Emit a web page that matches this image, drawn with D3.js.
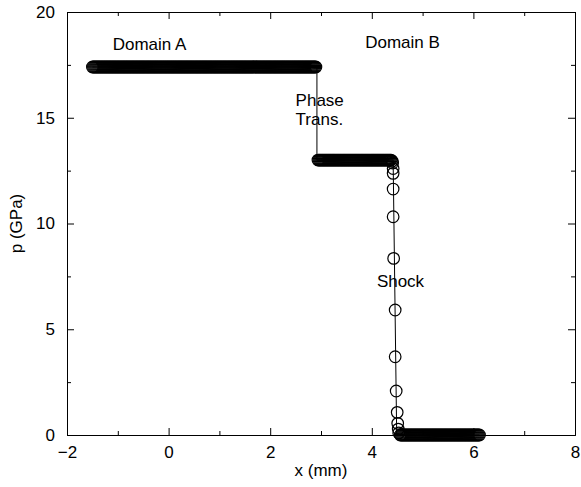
<html>
<head>
<meta charset="utf-8">
<style>
  body { margin: 0; background: #fff; }
  text { font-family: "Liberation Sans", Arial, sans-serif; }
</style>
<script src="https://d3js.org/d3.v7.min.js"></script>
</head>
<body>
<div id="chartContainer"></div>
<script type="text/javascript">
  // simulated cells, domain A (high pressure plateau)
  var bandAx = [
    -1.50,-1.48,-1.46,-1.44,-1.42,-1.40,-1.38,-1.36,-1.34,-1.32,-1.30,-1.28,-1.26,-1.24,-1.22,-1.20,-1.18,-1.16,-1.14,-1.12,-1.10,-1.08,-1.06,-1.04,-1.02,
    -1.00,-0.98,-0.96,-0.94,-0.92,-0.90,-0.88,-0.86,-0.84,-0.82,-0.80,-0.78,-0.76,-0.74,-0.72,-0.70,-0.68,-0.66,-0.64,-0.62,-0.60,-0.58,-0.56,-0.54,-0.52,
    -0.50,-0.48,-0.46,-0.44,-0.42,-0.40,-0.38,-0.36,-0.34,-0.32,-0.30,-0.28,-0.26,-0.24,-0.22,-0.20,-0.18,-0.16,-0.14,-0.12,-0.10,-0.08,-0.06,-0.04,-0.02,
    0.00,0.02,0.04,0.06,0.08,0.10,0.12,0.14,0.16,0.18,0.20,0.22,0.24,0.26,0.28,0.30,0.32,0.34,0.36,0.38,0.40,0.42,0.44,0.46,0.48,
    0.50,0.52,0.54,0.56,0.58,0.60,0.62,0.64,0.66,0.68,0.70,0.72,0.74,0.76,0.78,0.80,0.82,0.84,0.86,0.88,0.90,0.92,0.94,0.96,0.98,
    1.00,1.02,1.04,1.06,1.08,1.10,1.12,1.14,1.16,1.18,1.20,1.22,1.24,1.26,1.28,1.30,1.32,1.34,1.36,1.38,1.40,1.42,1.44,1.46,1.48,
    1.50,1.52,1.54,1.56,1.58,1.60,1.62,1.64,1.66,1.68,1.70,1.72,1.74,1.76,1.78,1.80,1.82,1.84,1.86,1.88,1.90,1.92,1.94,1.96,1.98,
    2.00,2.02,2.04,2.06,2.08,2.10,2.12,2.14,2.16,2.18,2.20,2.22,2.24,2.26,2.28,2.30,2.32,2.34,2.36,2.38,2.40,2.42,2.44,2.46,2.48,
    2.50,2.52,2.54,2.56,2.58,2.60,2.62,2.64,2.66,2.68,2.70,2.72,2.74,2.76,2.78,2.80,2.82,2.84,2.86,2.88,2.90];
  var bandAp = 17.4;

  // domain B, after the phase transition
  var bandBx = [
    2.94,2.96,2.98,
    3.00,3.02,3.04,3.06,3.08,3.10,3.12,3.14,3.16,3.18,3.20,3.22,3.24,3.26,3.28,3.30,3.32,3.34,3.36,3.38,3.40,3.42,3.44,3.46,3.48,
    3.50,3.52,3.54,3.56,3.58,3.60,3.62,3.64,3.66,3.68,3.70,3.72,3.74,3.76,3.78,3.80,3.82,3.84,3.86,3.88,3.90,3.92,3.94,3.96,3.98,
    4.00,4.02,4.04,4.06,4.08,4.10,4.12,4.14,4.16,4.18,4.20,4.22,4.24,4.26,4.28,4.30,4.32,4.34,4.36,4.38];
  var bandBp = 13.0;

  // cells inside the shock front
  var shockX = [4.40,4.41,4.42,4.42,4.42,4.42,4.43,4.46,4.46,4.48,4.50,4.51,4.52,4.53];
  var shockP = [12.95,12.86,12.6,12.37,11.63,10.32,8.35,5.91,3.70,2.08,1.07,0.55,0.28,0.10];

  // unshocked material ahead of the front
  var bandCx = [
    4.56,4.58,4.60,4.62,4.64,4.66,4.68,4.70,4.72,4.74,4.76,4.78,4.80,4.82,4.84,4.86,4.88,4.90,4.92,4.94,4.96,4.98,
    5.00,5.02,5.04,5.06,5.08,5.10,5.12,5.14,5.16,5.18,5.20,5.22,5.24,5.26,5.28,5.30,5.32,5.34,5.36,5.38,5.40,5.42,5.44,5.46,5.48,
    5.50,5.52,5.54,5.56,5.58,5.60,5.62,5.64,5.66,5.68,5.70,5.72,5.74,5.76,5.78,5.80,5.82,5.84,5.86,5.88,5.90,5.92,5.94,5.96,5.98,
    6.00,6.02,6.04,6.06,6.08,6.10,6.12];
  var bandCp = 0;

  // exact solution (thin line)
  var exactX = [-1.50, 2.92, 2.92, 4.42, 4.49, 6.12];
  var exactP = [17.4, 17.4, 13.0, 13.0, 0, 0];

  var xMajor = [-2, 0, 2, 4, 6, 8];
  var xMinor = [-1, 1, 3, 5, 7];
  var yMajor = [0, 5, 10, 15, 20];
  var yMinor = [2.5, 7.5, 12.5, 17.5];

  var labels = [
    {t: "Domain A", x: -1.1, y: 18.2},
    {t: "Domain B", x: 3.87, y: 18.3},
    {t: "Phase", x: 2.5, y: 15.55},
    {t: "Trans.", x: 2.5, y: 14.66},
    {t: "Shock", x: 4.1, y: 7.0}
  ];

  var margin = {top: 12, right: 6, bottom: 52, left: 67};
  var W = 581, H = 487;
  var w = W - margin.left - margin.right, h = H - margin.top - margin.bottom;

  var svg = d3.select("#chartContainer").append("svg")
    .attr("width", W).attr("height", H);
  var g = svg.append("g").attr("transform", "translate(" + margin.left + "," + margin.top + ")");

  var x = d3.scaleLinear().domain([-2, 8]).range([0, w]);
  var y = d3.scaleLinear().domain([0, 20]).range([h, 0]);

  // frame + ticks pointing inwards on all four sides
  function styleAx(sel) {
    sel.selectAll("path, line").attr("stroke", "#000");
    sel.selectAll("text").attr("fill", "#000").style("font-size", "17px")
      .style("font-family", "'Liberation Sans', Arial, sans-serif");
  }
  g.append("g").attr("transform", "translate(0," + h + ")")
    .call(d3.axisBottom(x).tickValues(xMajor).tickSize(-7).tickSizeOuter(0).tickPadding(11)
      .tickFormat(function (d) { return d < 0 ? "\u2212" + (-d) : d; }))
    .call(styleAx);
  g.append("g").attr("transform", "translate(0," + h + ")")
    .call(d3.axisBottom(x).tickValues(xMinor).tickSize(-4).tickSizeOuter(0).tickFormat(""))
    .call(styleAx);
  g.append("g")
    .call(d3.axisTop(x).tickValues(xMajor).tickSize(-7).tickSizeOuter(0).tickFormat(""))
    .call(styleAx);
  g.append("g")
    .call(d3.axisTop(x).tickValues(xMinor).tickSize(-4).tickSizeOuter(0).tickFormat(""))
    .call(styleAx);
  g.append("g")
    .call(d3.axisLeft(y).tickValues(yMajor).tickSize(-7).tickSizeOuter(0).tickPadding(12))
    .call(styleAx);
  g.append("g")
    .call(d3.axisLeft(y).tickValues(yMinor).tickSize(-4).tickSizeOuter(0).tickFormat(""))
    .call(styleAx);
  g.append("g").attr("transform", "translate(" + w + ",0)")
    .call(d3.axisRight(y).tickValues(yMajor).tickSize(-7).tickSizeOuter(0).tickFormat(""))
    .call(styleAx);
  g.append("g").attr("transform", "translate(" + w + ",0)")
    .call(d3.axisRight(y).tickValues(yMinor).tickSize(-4).tickSizeOuter(0).tickFormat(""))
    .call(styleAx);

  // axis titles
  g.append("text").attr("x", w / 2).attr("y", h + 41)
    .attr("text-anchor", "middle").style("font-size", "17px").text("x (mm)");
  g.append("text").attr("transform", "translate(" + (-45) + "," + (h / 2) + ") rotate(-90)")
    .attr("text-anchor", "middle").style("font-size", "17px").text("p (GPa)");

  // exact solution line
  var exact = exactX.map(function (d, i) { return [d, exactP[i]]; });
  g.append("path").datum(exact)
    .attr("fill", "none").attr("stroke", "#000").attr("stroke-width", 1)
    .attr("d", d3.line().x(function (d) { return x(d[0]); }).y(function (d) { return y(d[1]); }));

  // simulation points as open circles
  var pts = [];
  bandAx.forEach(function (d) { pts.push([d, bandAp]); });
  bandBx.forEach(function (d) { pts.push([d, bandBp]); });
  shockX.forEach(function (d, i) { pts.push([d, shockP[i]]); });
  bandCx.forEach(function (d) { pts.push([d, bandCp]); });

  g.selectAll("circle.pt").data(pts).enter().append("circle")
    .attr("class", "pt")
    .attr("cx", function (d) { return x(d[0]); })
    .attr("cy", function (d) { return y(d[1]); })
    .attr("r", 5.8)
    .attr("fill", "none").attr("stroke", "#000").attr("stroke-width", 1.2);

  // annotations
  g.selectAll("text.lab").data(labels).enter().append("text")
    .attr("class", "lab")
    .attr("x", function (d) { return x(d.x); })
    .attr("y", function (d) { return y(d.y); })
    .style("font-size", "17px")
    .text(function (d) { return d.t; });
</script>
</body>
</html>
